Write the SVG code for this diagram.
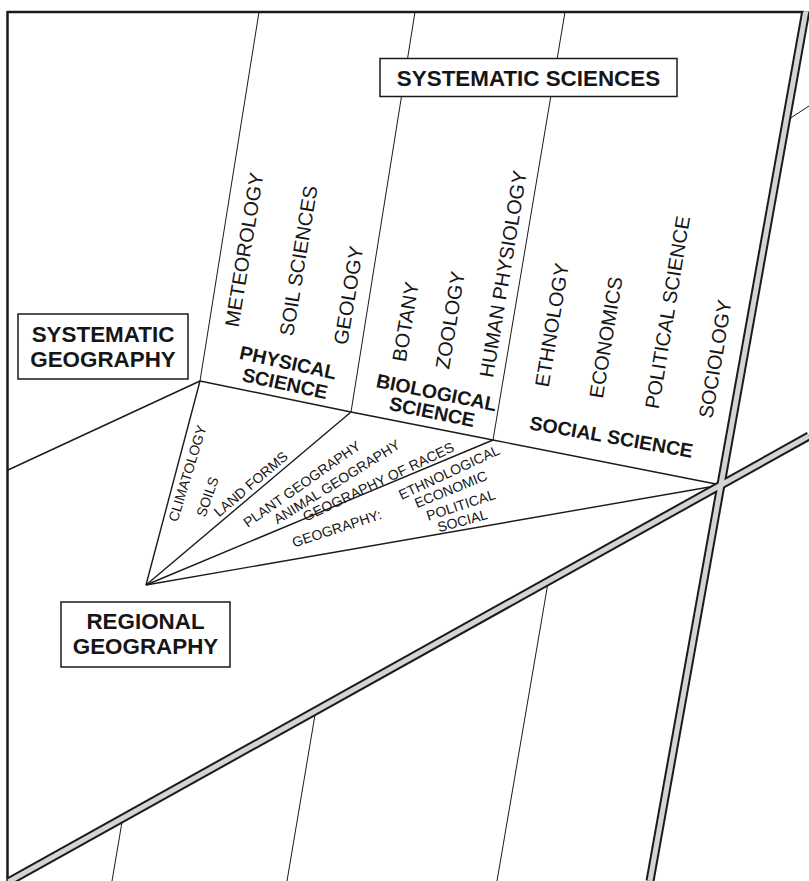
<svg xmlns="http://www.w3.org/2000/svg" width="809" height="881" viewBox="0 0 809 881">
<defs>
<style>
text{font-family:"Liberation Sans",Arial,sans-serif;fill:#161616;text-anchor:middle}
.big{font-size:22.4px;font-weight:bold}
.lab{font-size:19.5px;font-weight:bold}
.sub{font-size:19.9px}
.sm{font-size:14px}
.thin{stroke:#1a1a1a;stroke-width:1;fill:none}
.fan{stroke:#1a1a1a;stroke-width:1.4;fill:none}
.box{fill:#fff;stroke:#1a1a1a;stroke-width:1.5}
.dbl-o{stroke:#1a1a1a;stroke-width:9;fill:none}
.dbl-i{stroke:#d4d4d4;stroke-width:5;fill:none}
</style>
<clipPath id="frameClip"><rect x="7.5" y="11.5" width="802" height="870"/></clipPath>
</defs>
<rect width="809" height="881" fill="#fff"/>

<g id="frame" stroke="#1a1a1a" stroke-width="2.5" fill="none">
<line x1="7.5" y1="12" x2="804" y2="12"/>
<line x1="7.5" y1="11" x2="7.5" y2="881"/>
</g>

<g id="connectors">
<line class="thin" x1="200" y1="381" x2="259" y2="12"/>
<line class="thin" x1="351" y1="412" x2="415" y2="12"/>
<line class="thin" x1="493" y1="440" x2="565" y2="12"/>
<line class="fan" x1="200" y1="381" x2="8" y2="470"/>
<polyline class="fan" points="200,381 351,412 493,440 721,485"/>
<line class="fan" x1="146" y1="585" x2="200" y2="381"/>
<line class="fan" x1="146" y1="585" x2="351" y2="412"/>
<line class="fan" x1="146" y1="585" x2="493" y2="440"/>
<line class="fan" x1="146" y1="585" x2="721" y2="485"/>
<line class="thin" x1="122.7" y1="818" x2="112" y2="881"/>
<line class="thin" x1="315.7" y1="710.7" x2="287" y2="881"/>
<line class="thin" x1="548.3" y1="581" x2="497" y2="881"/>
<line class="thin" x1="786" y1="121" x2="809" y2="106"/>
<g clip-path="url(#frameClip)">
<line class="dbl-o" x1="8" y1="882" x2="809" y2="436"/>
<line class="dbl-o" x1="806" y1="10" x2="650" y2="881"/>
<line class="dbl-i" x1="8" y1="882" x2="809" y2="436"/>
<line class="dbl-i" x1="806" y1="10" x2="650" y2="881"/>
</g>
</g>

<g id="systematic-sciences">
<rect class="box" x="380" y="58.5" width="297" height="38"/>
<text class="big" x="528.5" y="86">SYSTEMATIC SCIENCES</text>
</g>

<g id="systematic-geography">
<rect class="box" x="18" y="314" width="170" height="65"/>
<text class="big" x="103" y="342">SYSTEMATIC</text>
<text class="big" x="103" y="367">GEOGRAPHY</text>
</g>

<g id="regional-geography">
<rect class="box" x="61" y="602" width="169" height="65"/>
<text class="big" x="145.5" y="629">REGIONAL</text>
<text class="big" x="145.5" y="654">GEOGRAPHY</text>
</g>

<g id="physical-science">
<text class="lab" transform="translate(286.8,369.1) rotate(12.2)">PHYSICAL</text>
<text class="lab" transform="translate(283.5,390.1) rotate(12.2)">SCIENCE</text>
<text class="sub" transform="translate(251,250.8) rotate(-80.7)">METEOROLOGY</text>
<text class="sub" transform="translate(305.3,261.8) rotate(-80.7)">SOIL SCIENCES</text>
<text class="sub" transform="translate(355.3,296.4) rotate(-80.7)">GEOLOGY</text>
</g>

<g id="biological-science">
<text class="lab" transform="translate(435.2,399.1) rotate(11.5)">BIOLOGICAL</text>
<text class="lab" transform="translate(430.8,418.5) rotate(11.5)">SCIENCE</text>
<text class="sub" transform="translate(412.3,322.8) rotate(-80.7)">BOTANY</text>
<text class="sub" transform="translate(457,321.1) rotate(-80.7)">ZOOLOGY</text>
<text class="sub" transform="translate(510,275.1) rotate(-80.7)">HUMAN PHYSIOLOGY</text>
</g>

<g id="social-science">
<text class="lab" transform="translate(610.2,443.5) rotate(10)">SOCIAL SCIENCE</text>
<text class="sub" transform="translate(558.7,326.1) rotate(-80.7)">ETHNOLOGY</text>
<text class="sub" transform="translate(612.7,338.4) rotate(-80.7)">ECONOMICS</text>
<text class="sub" transform="translate(674.3,313.4) rotate(-80.7)">POLITICAL SCIENCE</text>
<text class="sub" transform="translate(722,360.1) rotate(-80.7)">SOCIOLOGY</text>
</g>

<g id="regional-branches">
<text class="sm" transform="translate(192.1,474.8) rotate(-73)">CLIMATOLOGY</text>
<text class="sm" transform="translate(212,498.3) rotate(-71)">SOILS</text>
<text class="sm" transform="translate(254,487.8) rotate(-40.5)">LAND FORMS</text>
<text class="sm" transform="translate(304.6,488.1) rotate(-35)">PLANT GEOGRAPHY</text>
<text class="sm" transform="translate(339.4,486) rotate(-32)">ANIMAL GEOGRAPHY</text>
<text class="sm" transform="translate(380.5,486.2) rotate(-25.5)">GEOGRAPHY OF RACES</text>
<text class="sm" transform="translate(338.3,533) rotate(-18)">GEOGRAPHY:</text>
<text class="sm" transform="translate(451.1,476.8) rotate(-25)">ETHNOLOGICAL</text>
<text class="sm" transform="translate(452.6,493.9) rotate(-22)">ECONOMIC</text>
<text class="sm" transform="translate(462.3,509.7) rotate(-18)">POLITICAL</text>
<text class="sm" transform="translate(463.7,525.5) rotate(-15)">SOCIAL</text>
</g>
</svg>
